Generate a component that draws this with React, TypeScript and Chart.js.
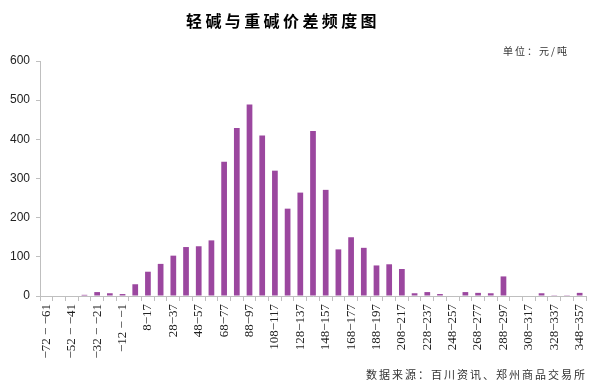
import React, { useEffect, useRef } from "react";
import { Chart, registerables } from "chart.js";

Chart.register(...registerables);

const TITLE = "轻碱与重碱价差频度图";
const UNIT = "单位：元/吨";
const SOURCE = "数据来源：百川资讯、郑州商品交易所";

const categories = [
  "−72 − −61", "−62 − −51", "−52 − −41", "−42 − −31", "−32 − −21", "−22 − −11",
  "−12 − −1", "−2−7", "8−17", "18−27", "28−37", "38−47", "48−57", "58−67",
  "68−77", "78−87", "88−97", "98−107", "108−117", "118−127", "128−137", "138−147",
  "148−157", "158−167", "168−177", "178−187", "188−197", "198−207", "208−217",
  "218−227", "228−237", "238−247", "248−257", "258−267", "268−277", "278−287",
  "288−297", "298−307", "308−317", "318−327", "328−337", "338−347", "348−357",
];

const frequency = [
  0, 0, 0, 3, 10, 7, 5, 30, 62, 82, 103, 125, 127, 142,
  343, 429, 489, 410, 320, 223, 264, 421, 271, 119, 150, 123, 78, 81, 69,
  7, 10, 5, 0, 10, 8, 7, 50, 0, 0, 7, 2, 2, 8,
];

const yTicks = [0, 100, 200, 300, 400, 500, 600];

function drawSpaced(ctx: CanvasRenderingContext2D, text: string, x: number, y: number, step: number) {
  const chars = Array.from(text);
  chars.forEach((c, i) => ctx.fillText(c, x + i * step, y));
}

const textPlugin = {
  id: "textPlugin",
  afterDraw(chart: any) {
    const ctx = chart.ctx as CanvasRenderingContext2D;
    ctx.save();
    ctx.fillStyle = "#000";
    ctx.textBaseline = "middle";
    ctx.textAlign = "left";
    ctx.font = "bold 16px 'Noto Sans CJK SC'";
    drawSpaced(ctx, TITLE, 186, 21, 19.4);
    ctx.fillStyle = "#333";
    ctx.font = "10px 'Noto Sans CJK SC'";
    (ctx as any).letterSpacing = "2px";
    ctx.fillText(UNIT, 503, 51);
    ctx.font = "11px 'Noto Sans CJK SC'";
    (ctx as any).letterSpacing = "2px";
    ctx.fillText(SOURCE, 366, 375);
    ctx.restore();
  },
};

export default function App() {
  const ref = useRef<HTMLCanvasElement>(null);
  useEffect(() => {
    document.body.style.margin = "0";
    const chart = new Chart(ref.current!, {
      type: "bar",
      data: {
        labels: categories,
        datasets: [
          {
            data: frequency,
            backgroundColor: "#9B479F",
            borderWidth: 0,
            barPercentage: 0.45,
            categoryPercentage: 1,
          },
        ],
      },
      options: {
        animation: false,
        responsive: false,
        maintainAspectRatio: false,
        layout: { padding: { left: 0, right: 14, top: 61, bottom: 0 } },
        plugins: { legend: { display: false }, tooltip: { enabled: false }, title: { display: false } },
        scales: {
          x: {
            offset: true,
            grid: {
              offset: true,
              drawOnChartArea: false,
              drawTicks: true,
              tickLength: 5,
              color: "#bfbfbf",
            },
            border: { color: "#bfbfbf" },
            ticks: {
              autoSkip: false,
              minRotation: 90,
              maxRotation: 90,
              padding: 3,
              color: "#222",
              font: { family: "'Liberation Serif', serif", size: 13 },
              callback: (_v: any, i: number) => (i % 2 === 0 ? categories[i] : ""),
            },
            afterFit: (scale: any) => {
              scale.height = 389 - 296;
            },
          },
          y: {
            min: 0,
            max: 600,
            afterBuildTicks: (scale: any) => {
              scale.ticks = yTicks.map((v) => ({ value: v }));
            },
            grid: {
              drawOnChartArea: false,
              drawTicks: true,
              tickLength: 4,
              color: "#bfbfbf",
            },
            border: { color: "#bfbfbf" },
            ticks: {
              padding: 6,
              color: "#222",
              font: { family: "'Liberation Sans', Arial, sans-serif", size: 12 },
            },
            afterFit: (scale: any) => {
              scale.width = 40;
            },
          },
        },
      },
      plugins: [textPlugin],
    });
    return () => chart.destroy();
  }, []);
  return (
    <div style={{ position: "absolute", left: 0, top: 0, width: 600, height: 389 }}>
      <canvas ref={ref} width={600} height={389} style={{ width: 600, height: 389 }} />
    </div>
  );
}
